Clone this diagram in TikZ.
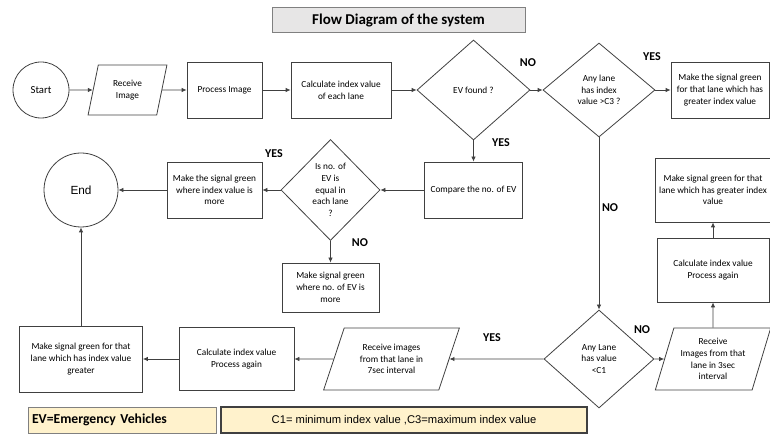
\documentclass[tikz,border=0pt]{standalone}
\usepackage{fontspec}
\setmainfont{Carlito}
\newfontfamily\arialfont{Liberation Sans}
\usetikzlibrary{shapes.geometric,arrows.meta}
\definecolor{titlegray}{HTML}{E7E6E6}
\definecolor{notefill}{HTML}{FFF2CC}
\definecolor{linegray}{HTML}{404040}
\newcommand{\boxfont}{\fontsize{9.3}{11.7}\selectfont}

\begin{document}
\begin{tikzpicture}[x=1pt,y=-1pt,
 block/.style ={draw=linegray,line width=0.8pt,font=\boxfont,align=center,inner sep=2pt},
 decision/.style ={diamond,draw=linegray,line width=0.8pt,font=\boxfont,align=center,inner sep=0pt},
 io/.style ={trapezium,trapezium stretches=true,draw=linegray,line width=0.8pt,font=\boxfont,align=center,inner sep=1pt},
 terminal/.style ={circle,draw=linegray,line width=0.8pt,inner sep=0pt},
 flow/.style ={-{Latex[length=5pt,width=4.5pt]},draw=linegray,line width=0.8pt},
 answer/.style ={font=\fontsize{12}{14}\selectfont\bfseries},
 note/.style ={fill=notefill,minimum height=26pt}
 ]
\useasboundingbox (0,0) rectangle (770,435);
%draw title
\node[draw=gray,line width=1pt,fill=titlegray,minimum width=253pt,minimum height=25pt,font=\fontsize{15}{18}\selectfont\bfseries] (title) at (398.5,20.5) {Flow Diagram of the system};
%draw top row
\node[terminal,minimum size=56pt,font=\fontsize{10.7}{13}\selectfont] (start) at (41,90) {Start};
\node[io,trapezium left angle=76,trapezium right angle=104,minimum width=79pt,minimum height=50pt] (recv) at (127.5,90) {Receive\\Image};
\node[block,minimum width=75pt,minimum height=56pt] (proc) at (224.5,90) {Process Image};
\node[block,minimum width=100pt,minimum height=56pt] (calc) at (341,90) {Calculate index value\\of each lane};
\node[decision,minimum width=113pt,minimum height=100pt] (evfound) at (473.5,90) {EV found ?};
\node[decision,minimum width=112pt,minimum height=94pt] (maxchk) at (599,90) {Any lane\\has index\\value >C3 ?};
\node[block,minimum width=98pt,minimum height=56pt] (greenmax) at (720,90) {Make the signal green\\for that lane which has\\greater index value};
%draw emergency vehicle branch
\node[block,minimum width=98pt,minimum height=56pt] (compare) at (473.5,190) {Compare the no. of EV};
\node[decision,minimum width=99pt,minimum height=101pt] (equal) at (330.5,190) {Is no. of\\EV is\\equal in\\each lane\\?};
\node[block,minimum width=95pt,minimum height=56pt] (greenidx) at (214.5,190) {Make the signal green\\where index value is\\more};
\node[terminal,minimum size=74pt,font=\arialfont\fontsize{11.8}{14}\selectfont] (finish) at (81,190) {End};
\node[block,minimum width=97pt,minimum height=49pt] (evmore) at (330.5,287.5) {Make signal green\\where no. of EV is\\more};
%draw low index branch
\node[decision,minimum width=110pt,minimum height=98pt] (minchk) at (599,359) {Any Lane\\has value\\<C1};
\node[io,trapezium left angle=66,trapezium right angle=114,minimum width=137pt,minimum height=62pt] (recv7) at (391.5,359) {Receive images\\from that lane in\\7sec interval};
\node[block,minimum width=115pt,minimum height=63pt] (calcslow) at (236.5,359) {Calculate index value\\Process again};
\node[block,minimum width=123pt,minimum height=66pt] (greenslow) at (81,359) {Make signal green for that\\lane which has index value\\greater};
%draw normal branch
\node[io,trapezium left angle=70,trapezium right angle=110,minimum width=116pt,minimum height=62pt] (recv3) at (713,359) {Receive\\Images from that\\lane in 3sec\\interval};
\node[block,minimum width=112pt,minimum height=64pt] (calcfast) at (713,270) {Calculate index value\\Process again};
\node[block,minimum width=116pt,minimum height=64pt] (greenfast) at (713,190) {Make signal green for that\\lane which has greater index\\value};
%draw answers
\node[answer] (no1) at (528,63) {NO};
\node[answer] (yes1) at (652,57) {YES};
\node[answer] (yes2) at (501,143) {YES};
\node[answer] (no2) at (610,208) {NO};
\node[answer] (yes3) at (274,154) {YES};
\node[answer] (no3) at (360,243) {NO};
\node[answer] (yes4) at (492,338) {YES};
\node[answer] (no4) at (642,330) {NO};
%draw legend
\node[note,draw=gray,line width=1pt,minimum width=188pt,text width=180pt,align=left,font=\fontsize{13.7}{16}\selectfont\bfseries] (evnote) at (122,420) {EV=Emergency Vehicles};
\node[note,draw=linegray,line width=1.3pt,minimum width=366pt,font=\arialfont\fontsize{11.2}{13}\selectfont] (cnote) at (404,420) {C1= minimum index value ,C3=maximum index value};
%draw connectors
\draw[flow] (start) -- (recv);
\draw[flow] (recv) -- (proc);
\draw[flow] (proc) -- (calc);
\draw[flow] (calc) -- (evfound);
\draw[flow] (evfound) -- (maxchk);
\draw[flow] (maxchk) -- (greenmax);
\draw[flow] (evfound) -- (compare);
\draw[flow] (compare) -- (equal);
\draw[flow] (equal) -- (greenidx);
\draw[flow] (greenidx) -- (finish);
\draw[flow] (equal) -- (evmore);
\draw[flow] (maxchk) -- (minchk);
\draw[flow] (minchk) -- (recv7);
\draw[flow] (recv7) -- (calcslow);
\draw[flow] (calcslow) -- (greenslow);
\draw[flow] (greenslow) -- (finish);
\draw[flow] (minchk) -- (recv3);
\draw[flow] (recv3) -- (calcfast);
\draw[flow] (calcfast) -- (greenfast);
\end{tikzpicture}
\end{document}
